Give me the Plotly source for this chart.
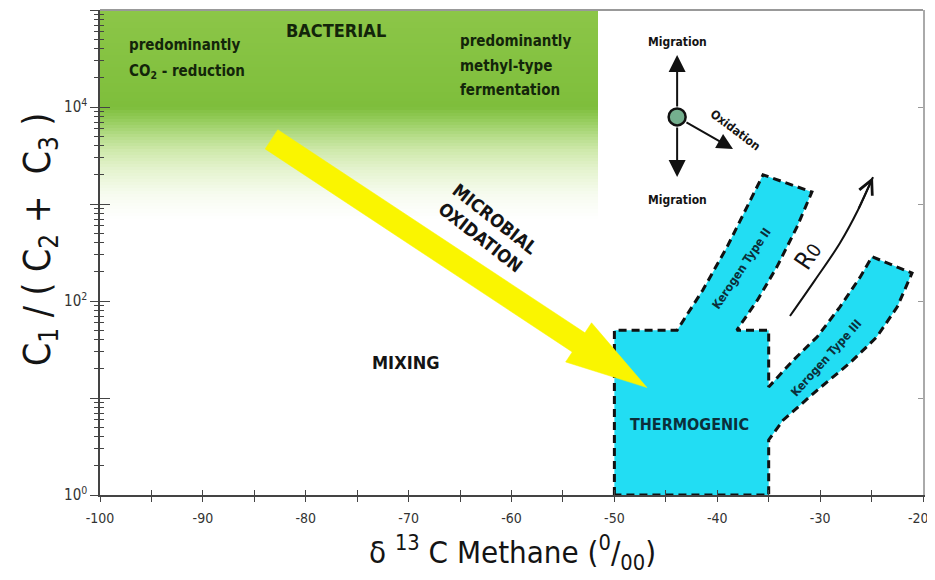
import numpy as np
import plotly.graph_objects as go

# ---------------- data ----------------
X_RANGE = [-100, -20]
Y_RANGE_LOG = [0, 5]

x_tick_vals = [-100, -90, -80, -70, -60, -50, -40, -30, -20]
x_tick_text = ["-100", "-90", "-80", "-70", "-60", "-50", "-40", "-30", "-20"]
x_minor_vals = [-95, -85, -75, -65, -55, -45, -35, -25]

y_tick_vals = [1, 10, 100, 1000, 10000, 100000]
y_tick_text = ["10<sup>0</sup>", " ", "10<sup>2</sup>", " ", "10<sup>4</sup>", " "]
y_minor_vals = [m * 10 ** d for d in range(5) for m in range(2, 10)]

# bacterial field (green, fading downward)
bacterial_x = [-100, -51.6]
bacterial_fade_logy = [2.85, 3.1, 3.35, 3.55, 3.7, 3.85, 4.0, 4.2, 5.0]
bacterial_fade_colors = ["rgb(255,255,255)", "rgb(246,251,239)", "rgb(229,243,207)",
                         "rgb(207,233,172)", "rgb(182,221,137)", "rgb(152,206,96)",
                         "rgb(126,190,60)", "rgb(129,192,62)", "rgb(140,198,72)"]

# thermogenic field with kerogen type II / III branches
thermo_x = [-50, -50, -43.9, -41.4, -39.05, -36.8, -35.55, -30.8, -32.25, -34.2, -36.1, -38.1,
            -35, -35, -32.6, -30.3, -28.07, -26.1, -24.96, -21.07, -22.5, -24.5, -27.1, -30.3,
            -33.6, -35, -35, -50]
thermo_y = [1, 50, 50, 130, 360, 1100, 2000, 1330, 580, 225, 102, 50,
            50, 13, 24.6, 42.5, 87, 177, 286, 194, 87, 42.5, 23, 12,
            5.9, 3.7, 1, 1]

# microbial oxidation arrow (tail -> tip)
oxid_tail = (-83.33, 4640)
oxid_tip = (-46.83, 12.8)

# maturity (Ro) trend arrow
ro_x = [-32.93, -30.50, -28.07, -26.32, -24.86]
ro_y = [70, 164, 396, 867, 1897]

# migration / oxidation symbol
sym_center = (-43.9, 7890)
sym_up_tip = (-43.9, 34400)
sym_down_tip = (-43.9, 1900)
sym_oxid_tip = (-38.47, 3700)

# ---------------- layout geometry ----------------
OFF = 8  # default page body margin
W, H = 935 - OFF, 580 - OFF
ML, MR, MT, MB = 100 - OFF, 12, 10 - OFF, 85
PW, PH = W - ML - MR, H - MT - MB
SX = PW / (X_RANGE[1] - X_RANGE[0])
SY = PH / (Y_RANGE_LOG[1] - Y_RANGE_LOG[0])

FONT = "DejaVu Sans Condensed, Liberation Sans Narrow, Roboto Condensed, Liberation Sans, Arial, sans-serif"
TXT = "#141414"

fig = go.Figure()

# green bacterial field
lo, hi = bacterial_fade_logy[0], Y_RANGE_LOG[1]
edges = np.linspace(lo, hi, 70)
centers = (edges[:-1] + edges[1:]) / 2
cs = [[(v - lo) / (hi - lo), c] for v, c in zip(bacterial_fade_logy, bacterial_fade_colors)]
fig.add_trace(go.Heatmap(x=bacterial_x, y=10 ** edges, z=[[c] for c in centers],
                         colorscale=cs, zmin=lo, zmax=hi, showscale=False, hoverinfo="skip"))

# thermogenic field
fig.add_trace(go.Scatter(x=thermo_x, y=thermo_y, mode="lines", fill="toself",
                         fillcolor="#22DDF3",
                         line=dict(color="#111", width=3, dash="8px,5px"),
                         hoverinfo="skip", showlegend=False))

# yellow arrow polygon (built in pixel space, converted back to data)
def to_px(x, y):
    return np.array([(x - X_RANGE[0]) * SX, (np.log10(y) - Y_RANGE_LOG[0]) * SY])

def to_data(p):
    return X_RANGE[0] + p[0] / SX, 10 ** (Y_RANGE_LOG[0] + p[1] / SY)

pt, pp = to_px(*oxid_tail), to_px(*oxid_tip)
d = pp - pt
u = d / np.linalg.norm(d)
n = np.array([-u[1], u[0]])
hw, HW, HL = 11.5, 23.5, 82
base = pp - u * HL
poly = [pt + n * hw, base + n * hw, base + n * HW, pp, base - n * HW, base - n * hw, pt - n * hw, pt + n * hw]
px_, py_ = zip(*[to_data(p) for p in poly])
fig.add_trace(go.Scatter(x=px_, y=py_, mode="lines", fill="toself", fillcolor="#FAF500",
                         line=dict(color="#FAF500", width=0.5), hoverinfo="skip", showlegend=False))

# Ro curve
fig.add_trace(go.Scatter(x=ro_x, y=ro_y, mode="lines", line=dict(color="#111", width=2, shape="spline"),
                         hoverinfo="skip", showlegend=False))

# symbol circle
fig.add_trace(go.Scatter(x=[sym_center[0]], y=[sym_center[1]], mode="markers",
                         marker=dict(size=17, color="#74AF8E", line=dict(color="#111", width=2.5)),
                         hoverinfo="skip", showlegend=False))

# dummy traces for overlay axes
fig.add_trace(go.Scatter(x=[None], y=[None], xaxis="x2", yaxis="y2", showlegend=False, hoverinfo="skip"))
fig.add_trace(go.Scatter(x=[None], y=[None], xaxis="x", yaxis="y3", showlegend=False, hoverinfo="skip"))

ann = []

def arrow(tip, tail, head=2, width=2, size=1.5, sstand=0):
    ann.append(dict(x=tip[0], y=np.log10(tip[1]), ax=tail[0], ay=np.log10(tail[1]),
                    xref="x", yref="y", axref="x", ayref="y", showarrow=True,
                    arrowhead=head, arrowwidth=width, arrowsize=size, arrowcolor="#111",
                    startstandoff=sstand, text=""))

arrow(sym_up_tip, sym_center, sstand=9, size=1.7)
arrow(sym_down_tip, sym_center, sstand=9, size=1.7)
arrow(sym_oxid_tip, sym_center, sstand=9, size=1.6)
arrow((ro_x[-1], ro_y[-1]), (ro_x[-2], ro_y[-2]), head=5, width=2, size=1.4)

def label(text, x, ly, size, angle=0, xanchor="center", color=TXT, bold=True):
    t = f"<b>{text}</b>" if bold else text
    ann.append(dict(x=x, y=ly, xref="x", yref="y", text=t, showarrow=False, textangle=angle,
                    xanchor=xanchor, yanchor="middle", align=xanchor if xanchor != "center" else "center",
                    font=dict(family=FONT, size=size, color=color)))

GTXT = "#13250a"
label("BACTERIAL", -77.06, 4.784, 18, color=GTXT)
label("predominantly", -97.4, 4.639, 15, xanchor="left", color=GTXT)
label("CO<sub>2</sub> - reduction", -97.4, 4.361, 15, xanchor="left", color=GTXT)
label("predominantly", -65.2, 4.68, 15, xanchor="left", color=GTXT)
label("methyl-type", -65.2, 4.42, 15, xanchor="left", color=GTXT)
label("fermentation", -65.2, 4.175, 15, xanchor="left", color=GTXT)
label("MICROBIAL<br>OXIDATION", -62.3, 2.75, 18, angle=38)
label("MIXING", -70.26, 1.361, 18)
label("THERMOGENIC", -42.65, 0.732, 16, color="#0b2f3a")
label("Kerogen Type II", -37.6, 2.34, 12, angle=-56, color="#0b2f3a")
label("Kerogen Type III", -29.4, 1.412, 12, angle=-48, color="#0b2f3a")
label("R<span style='font-size:19px'>0</span>", -31.2, 2.474, 25, angle=-56, bold=False)
label("Migration", -43.9, 4.67, 12)
label("Migration", -43.9, 3.04, 12)
label("Oxidation", -38.26, 3.763, 12, angle=37)

# last x tick label kept inside the page
ann.append(dict(xref="paper", yref="paper", x=(931 - 100) / PW, y=-(518 - 495) / PH,
                text=x_tick_text[-1], showarrow=False, xanchor="right", yanchor="middle",
                font=dict(family=FONT, size=14, color="#333")))

# axis titles
ann.append(dict(xref="paper", yref="paper", x=(40 - 100) / PW, y=(495 - 240) / PH,
                text="C<sub>1</sub> / ( C<sub>2</sub> +  C<sub>3</sub> )", showarrow=False,
                textangle=-90, xanchor="center", yanchor="middle",
                font=dict(family=FONT, size=37, color=TXT)))
ann.append(dict(xref="paper", yref="paper", x=(512 - 100) / PW, y=-(552 - 495) / PH,
                text="δ <sup>13</sup> C Methane (<sup>0</sup>/<sub>00</sub>)", showarrow=False,
                xanchor="center", yanchor="middle",
                font=dict(family=FONT, size=31, color=TXT)))

AX = "#444"
fig.update_layout(
    width=W, height=H, margin=dict(l=ML, r=MR, t=MT, b=MB),
    paper_bgcolor="white", plot_bgcolor="white", showlegend=False,
    annotations=ann,
    xaxis=dict(range=X_RANGE, tickvals=x_tick_vals, ticktext=x_tick_text[:-1] + [" "], ticks="outside",
               ticklen=5, tickcolor=AX, tickwidth=1, showline=True, linecolor=AX, linewidth=1.5,
               showgrid=False, zeroline=False, ticklabelstandoff=4,
               tickfont=dict(family=FONT, size=14, color="#333"),
               minor=dict(tickvals=x_minor_vals, ticks="outside", ticklen=5, tickcolor=AX, showgrid=False)),
    xaxis2=dict(range=X_RANGE, overlaying="x", side="bottom", anchor="y", tickvals=x_tick_vals,
                ticks="inside", ticklen=5, tickcolor=AX, showticklabels=False, showline=False,
                showgrid=False, zeroline=False,
                minor=dict(tickvals=x_minor_vals, ticks="inside", ticklen=5, tickcolor=AX, showgrid=False)),
    yaxis=dict(type="log", range=Y_RANGE_LOG, tickvals=y_tick_vals, ticktext=y_tick_text,
               ticks="outside", ticklen=8, tickcolor=AX, showline=True, linecolor=AX, linewidth=1.5,
               showgrid=False, zeroline=False,
               tickfont=dict(family=FONT, size=15, color="#333"),
               minor=dict(tickvals=y_minor_vals, ticks="outside", ticklen=4, tickcolor=AX, showgrid=False)),
    yaxis2=dict(type="log", range=Y_RANGE_LOG, overlaying="y", side="left", anchor="x2",
                tickvals=y_tick_vals, ticks="inside", ticklen=10, tickcolor=AX, showticklabels=False,
                showline=False, showgrid=False, zeroline=False,
                minor=dict(tickvals=y_minor_vals, ticks="inside", ticklen=4, tickcolor=AX, showgrid=False)),
    yaxis3=dict(type="log", range=Y_RANGE_LOG, overlaying="y", side="right", anchor="x",
                tickvals=y_tick_vals, ticks="inside", ticklen=5, tickcolor="#999", showticklabels=False,
                showline=True, linecolor="#aaa", linewidth=2, showgrid=False, zeroline=False),
    shapes=[dict(type="line", xref="paper", yref="paper", x0=0, x1=1, y0=1, y1=1,
                 line=dict(color="#999", width=2))],
)

fig.write_html("out.html")
